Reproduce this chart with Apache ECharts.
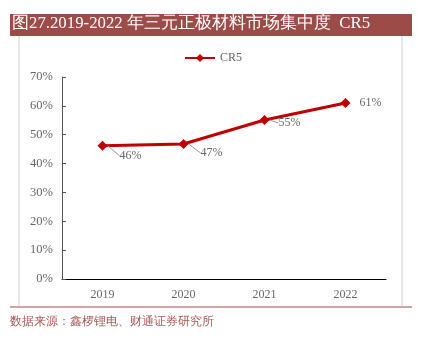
<!DOCTYPE html>
<html><head><meta charset="utf-8">
<script src="https://cdn.jsdelivr.net/npm/echarts@6/dist/echarts.min.js"></script>
<style>html,body{margin:0;padding:0;background:#fff}#c{width:422px;height:341px}</style>
</head><body><div id="c"></div>
<script>
const categories = ['2019', '2020', '2021', '2022'];
const cr5 = [46.2, 46.8, 55.1, 61.0];
const yTicks = [0, 10, 20, 30, 40, 50, 60, 70];
const labelShift = [[6, 10], [6, 9], [3, 3], [3, 0]];
const showLeader = [true, true, true, false];

const chart = echarts.init(document.getElementById('c'));
const serif = '"Liberation Serif","DejaVu Serif",serif';
chart.setOption({
  animation: false,
  backgroundColor: '#fff',
  graphic: [
    {type: 'rect', shape: {x: 10, y: 14, width: 402, height: 22}, style: {fill: '#9c4c48'}},
    {type: 'text', left: 12, top: 15, style: {text: '图27.2019-2022 年三元正极材料市场集中度  CR5', fill: '#fff', font: '16.8px ' + serif}},
    {type: 'rect', shape: {x: 18, y: 36, width: 2, height: 270}, style: {fill: '#e8e8e8'}},
    {type: 'rect', shape: {x: 401, y: 36, width: 2, height: 270}, style: {fill: '#e8e8e8'}},
    {type: 'rect', shape: {x: 10, y: 306, width: 402, height: 2}, style: {fill: '#d3a3a1'}},
    {type: 'text', left: 10, top: 316, style: {text: '数据来源：鑫椤锂电、财通证券研究所', fill: '#a65a57', font: '12px ' + serif}}
  ],
  legend: {
    top: 47, left: 179,
    itemWidth: 30, itemHeight: 10, itemGap: 4,
    textStyle: {color: '#666', fontFamily: serif, fontSize: 12},
    data: ['CR5']
  },
  grid: {left: 62, right: 36, top: 77, bottom: 62},
  xAxis: {
    type: 'category', data: categories, boundaryGap: true,
    axisLine: {lineStyle: {color: '#000', width: 1}},
    axisTick: {inside: true, length: 4, lineStyle: {color: '#000'}},
    axisLabel: {color: '#666', fontFamily: serif, fontSize: 12, margin: 10}
  },
  yAxis: {
    type: 'value', min: 0, max: 70, interval: 10,
    axisLine: {show: true, lineStyle: {color: '#555', width: 1}},
    axisTick: {show: true, inside: true, length: 4, lineStyle: {color: '#555'}},
    splitLine: {show: false},
    axisLabel: {color: '#666', fontFamily: serif, fontSize: 12.5, margin: 9,
      formatter: v => v + '%'}
  },
  series: [{
    name: 'CR5', type: 'line',
    data: cr5.map((v, i) => ({value: v, labelLine: {show: showLeader[i]}})),
    symbol: 'diamond', symbolSize: 10,
    lineStyle: {color: '#c00000', width: 3},
    itemStyle: {color: '#c00000'},
    label: {show: true, position: 'right', distance: 6, color: '#666', fontFamily: serif, fontSize: 12,
      formatter: p => Math.round(p.value) + '%'},
    labelLayout: p => ({dx: labelShift[p.dataIndex][0], dy: labelShift[p.dataIndex][1]}),
    labelLine: {show: true, lineStyle: {color: '#999', width: 1}}
  }]
});
</script></body></html>
